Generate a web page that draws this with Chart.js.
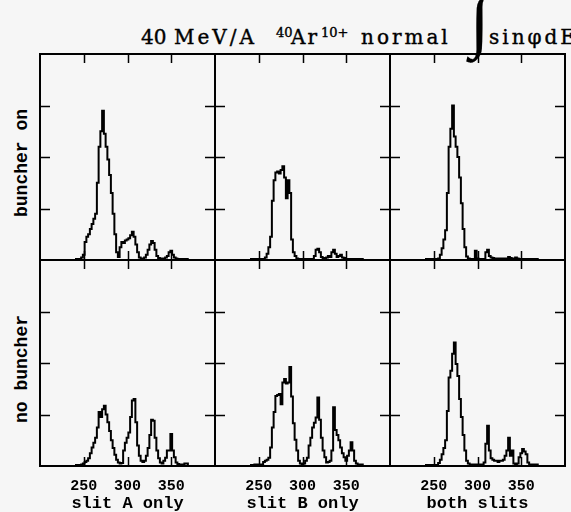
<!DOCTYPE html>
<html>
<head>
<meta charset="utf-8">
<script src="https://cdn.jsdelivr.net/npm/chart.js@4.4.0/dist/chart.umd.min.js"></script>
<style>
body { margin: 0; background: #f6f6f6; }
#page { position: relative; width: 571px; height: 512px; overflow: hidden; }
#page canvas { position: absolute; }
#frame { position: absolute; left: 39px; top: 53px; width: 527px; height: 414px; border: 1px solid #000; box-sizing: border-box; }
.t { position: absolute; font-family: 'DejaVu Serif'; font-size: 20px; letter-spacing: 3px; line-height: 1; white-space: nowrap; color: #000; -webkit-text-stroke: 0.4px #000; }
.sup { font-size: 13px; letter-spacing: 0; }
.int { font-family: 'Liberation Serif'; font-size: 70px; letter-spacing: 0; -webkit-text-stroke: 0.2px #000; }
.row { position: absolute; font: bold 18px 'Liberation Mono'; line-height: 1; white-space: nowrap; color: #000; transform: translate(-50%, -50%) rotate(-90deg); }
</style>
</head>
<body>
<div id="page">
	<div id="frame"></div>
	<span class="t" style="left:141px;top:27px;letter-spacing:0">40</span>
	<span class="t" style="left:174px;top:27px">MeV/A</span>
	<span class="t sup" style="left:276px;top:26px">40</span>
	<span class="t" style="left:291px;top:27px;letter-spacing:2px">Ar</span>
	<span class="t sup" style="left:321px;top:26px">10+</span>
	<span class="t" style="left:361px;top:27px">normal</span>
	<span class="t int" style="left:470px;top:-14px">∫</span>
	<span class="t" style="left:489px;top:27px">sinφdE</span>
	<div class="row" style="left:22px;top:163px">buncher on</div>
	<div class="row" style="left:22px;top:369px">no buncher</div>
</div>
<script>
// energy bins (bin centres), 2 units wide
var bins = [240, 242, 244, 246, 248, 250, 252, 254, 256, 258,
	260, 262, 264, 266, 268, 270, 272, 274, 276, 278,
	280, 282, 284, 286, 288, 290, 292, 294, 296, 298,
	300, 302, 304, 306, 308, 310, 312, 314, 316, 318,
	320, 322, 324, 326, 328, 330, 332, 334, 336, 338,
	340, 342, 344, 346, 348, 350, 352, 354, 356, 358,
	360, 362, 364, 366, 368, 370];

// buncher on
var slitAOn = [0.02, 0.02, 0.02, 0.02, 0.05, 0.1, 0.35, 0.45, 0.5, 0.6,
	0.7, 0.8, 0.9, 1.5, 2.2, 2.5, 2.9, 2.45, 2.2, 1.95,
	1.65, 1.3, 0.9, 0.5, 0.15, 0.06, 0.25, 0.35, 0.33, 0.38,
	0.4, 0.42, 0.48, 0.55, 0.45, 0.3, 0.15, 0.05, 0.03, 0.02,
	0.05, 0.1, 0.2, 0.3, 0.37, 0.33, 0.2, 0.08, 0.04, 0.03,
	0.02, 0.03, 0.05, 0.08, 0.15, 0.18, 0.1, 0.05, 0.03, 0.02,
	0.02, 0.02, 0.02, 0.02, 0.02, 0.02];
var slitBOn = [0.02, 0.02, 0.02, 0.02, 0.02, 0.02, 0.02, 0.02, 0.02, 0.05,
	0.12, 0.25, 0.45, 1.15, 1.55, 1.7, 1.72, 1.68, 1.75, 1.82,
	1.6, 1.2, 1.55, 1.3, 0.4, 0.15, 0.08, 0.03, 0.02, 0.02,
	0.02, 0.02, 0.02, 0.02, 0.02, 0.02, 0.02, 0.08, 0.2, 0.22,
	0.15, 0.06, 0.04, 0.03, 0.05, 0.08, 0.06, 0.15, 0.2, 0.12,
	0.06, 0.08, 0.1, 0.05, 0.04, 0.02, 0.02, 0.02, 0.02, 0.02,
	0.02, 0.02, 0.02, 0.02, 0.02, 0.02];
var bothOn = [0.02, 0.02, 0.02, 0.02, 0.02, 0.02, 0.02, 0.02, 0.03, 0.1,
	0.23, 0.4, 0.58, 1.3, 2.2, 2.55, 3.0, 2.4, 2.2, 2.0,
	1.6, 1.1, 0.6, 0.25, 0.07, 0.03, 0.02, 0.02, 0.02, 0.18,
	0.03, 0.02, 0.02, 0.02, 0.02, 0.15, 0.2, 0.08, 0.05, 0.04,
	0.03, 0.03, 0.03, 0.03, 0.03, 0.03, 0.03, 0.03, 0.06, 0.04,
	0.02, 0.03, 0.05, 0.03, 0.02, 0.02, 0.02, 0.02, 0.02, 0.02,
	0.02, 0.02, 0.02, 0.02, 0.02, 0.02];

// no buncher
var slitANo = [0.02, 0.02, 0.02, 0.02, 0.03, 0.05, 0.08, 0.1, 0.15, 0.25,
	0.36, 0.45, 0.55, 0.75, 1.05, 0.95, 1.1, 1.17, 1.0, 0.85,
	0.68, 0.5, 0.35, 0.22, 0.12, 0.07, 0.05, 0.06, 0.3, 0.45,
	0.55, 0.65, 0.95, 1.27, 1.3, 0.85, 0.4, 0.2, 0.1, 0.08,
	0.1, 0.2, 0.35, 0.6, 0.9, 0.88, 0.55, 0.3, 0.15, 0.07,
	0.05, 0.1, 0.16, 0.3, 0.3, 0.62, 0.3, 0.17, 0.07, 0.04,
	0.03, 0.02, 0.03, 0.05, 0.05, 0.02];
var slitBNo = [0.02, 0.02, 0.02, 0.03, 0.03, 0.03, 0.03, 0.03, 0.08, 0.1,
	0.12, 0.16, 0.36, 0.75, 1.05, 1.36, 1.38, 1.4, 1.2, 1.62,
	1.69, 1.6, 1.62, 1.92, 1.35, 0.83, 0.51, 0.3, 0.1, 0.05,
	0.03, 0.05, 0.1, 0.16, 0.4, 0.55, 0.75, 0.84, 0.94, 1.33,
	0.9, 0.55, 0.3, 0.17, 0.07, 0.08, 0.1, 0.3, 1.14, 0.7,
	0.6, 0.5, 0.36, 0.25, 0.17, 0.1, 0.2, 0.3, 0.46, 0.3,
	0.1, 0.05, 0.03, 0.03, 0.03, 0.03];
var bothNo = [0.02, 0.02, 0.02, 0.02, 0.02, 0.02, 0.02, 0.02, 0.06, 0.12,
	0.23, 0.35, 0.5, 1.07, 1.72, 1.85, 2.18, 2.4, 1.98, 1.75,
	1.3, 0.95, 0.6, 0.3, 0.1, 0.05, 0.03, 0.03, 0.03, 0.03,
	0.03, 0.03, 0.03, 0.03, 0.07, 0.43, 0.78, 0.3, 0.15, 0.12,
	0.1, 0.1, 0.08, 0.1, 0.1, 0.12, 0.2, 0.3, 0.55, 0.2,
	0.3, 0.05, 0.03, 0.05, 0.17, 0.25, 0.33, 0.28, 0.23, 0.07,
	0.03, 0.03, 0.03, 0.03, 0.03, 0.03];

var xTickValues = [250, 300, 350];
var yTickValues = [1, 2, 3];
var columnLabels = ['slit A only', 'slit B only', 'both slits'];

var panels = [
	{ data: slitAOn, col: 0, row: 0 },
	{ data: slitBOn, col: 1, row: 0 },
	{ data: bothOn, col: 2, row: 0 },
	{ data: slitANo, col: 0, row: 1 },
	{ data: slitBNo, col: 1, row: 1 },
	{ data: bothNo, col: 2, row: 1 }
];

var colLeft = [40, 215, 390];
var rowTop = [54, 260];
var panelW = 175;
var panelH = 206;
var axisH = 46;

// box + inward ticks on all four sides
var panelFrame = {
	id: 'panelFrame',
	afterDraw: function (chart) {
		var ctx = chart.ctx;
		var a = chart.chartArea;
		var x = chart.scales.x;
		var y = chart.scales.y;
		ctx.save();
		ctx.strokeStyle = '#000';
		ctx.lineWidth = 2;
		ctx.strokeRect(a.left, a.top, a.right - a.left, a.bottom - a.top);
		ctx.lineWidth = 1.5;
		ctx.beginPath();
		for (var i = 0; i < xTickValues.length; i++) {
			var px = Math.round(x.getPixelForValue(xTickValues[i])) + 0.5;
			ctx.moveTo(px, a.top);
			ctx.lineTo(px, a.top + 9);
			ctx.moveTo(px, a.bottom);
			ctx.lineTo(px, a.bottom - 9);
		}
		for (var j = 0; j < yTickValues.length; j++) {
			var py = Math.round(y.getPixelForValue(yTickValues[j])) + 0.5;
			ctx.moveTo(a.left, py);
			ctx.lineTo(a.left + 10, py);
			ctx.moveTo(a.right, py);
			ctx.lineTo(a.right - 10, py);
		}
		ctx.stroke();
		ctx.restore();
	}
};

function makePanel(p) {
	var page = document.getElementById('page');
	var cv = document.createElement('canvas');
	var bottom = p.row == 1;
	var h = panelH + (bottom ? axisH : 0);
	cv.width = panelW;
	cv.height = h;
	cv.style.left = colLeft[p.col] + 'px';
	cv.style.top = rowTop[p.row] + 'px';
	cv.style.width = panelW + 'px';
	cv.style.height = h + 'px';
	page.appendChild(cv);

	var points = [];
	for (var i = 0; i < bins.length; i++) {
		points.push({ x: bins[i], y: p.data[i] });
	}

	new Chart(cv, {
		type: 'line',
		data: {
			datasets: [{
				data: points,
				stepped: 'middle',
				borderColor: '#000',
				borderWidth: 2,
				pointRadius: 0,
				fill: false
			}]
		},
		options: {
			responsive: false,
			maintainAspectRatio: false,
			animation: false,
			events: [],
			layout: { padding: 0 },
			plugins: { legend: { display: false }, tooltip: { enabled: false } },
			scales: {
				x: {
					type: 'linear',
					min: 200,
					max: 400,
					display: bottom,
					grid: { display: false, drawTicks: false },
					border: { display: false },
					afterBuildTicks: function (scale) {
						scale.ticks = xTickValues.map(function (v) { return { value: v }; });
					},
					afterFit: function (scale) {
						if (bottom) scale.height = axisH;
					},
					ticks: {
						padding: 13,
						color: '#000',
						maxRotation: 0,
						autoSkip: false,
						font: { family: 'Liberation Mono', size: 15, weight: 'bold', lineHeight: 1 }
					},
					title: {
						display: bottom,
						text: columnLabels[p.col],
						color: '#000',
						padding: 0,
						font: { family: 'Liberation Mono', size: 17, weight: 'bold', lineHeight: 1 }
					}
				},
				y: { min: 0, max: 4, display: false }
			}
		},
		plugins: [panelFrame]
	});
}

panels.forEach(makePanel);
</script>
</body>
</html>
